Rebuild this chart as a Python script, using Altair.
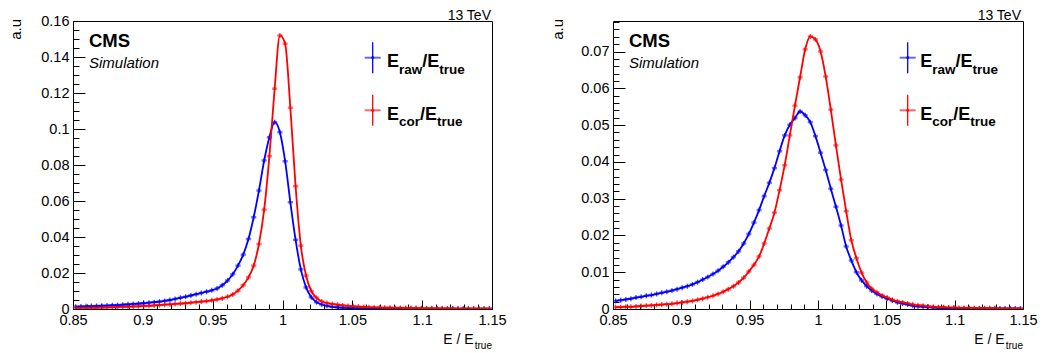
import altair as alt
import pandas as pd

FONT = "Liberation Sans"

# ---------------- data ----------------
BIN_LO = 0.85
BIN_WIDTH = 0.00375
N_BINS = 80
x_centers = [round(BIN_LO + BIN_WIDTH * (i + 0.5), 6) for i in range(N_BINS)]

left_raw = [
    .0013, .0014, .0015, .0016, .0017, .0018, .0019, .0021, .0022, .0024,
    .0026, .0028, .0030, .0032, .0035, .0038, .0041, .0045, .0050, .0056,
    .0062, .0068, .0075, .0082, .0089, .0096, .0104, .0114, .0132, .0158,
    .0193, .0241, .0302, .0389, .0510, .0658, .0825, .0954, .1038, .0982,
    .0821, .0593, .0384, .0220, .0120, .0065, .0038, .0025, .0017, .0012,
    .0009, .0007, .0005, .0004, .0003, .0003, .0002, .0002, .0001, .0001,
    .0001, .0001, .0001, .0001, .0001, .0001, .0001, .0001, .0001, .0001,
    .0001, .0001, .0001, .0001, .0001, .0001, .0001, .0001, .0001, .0001,
]
left_cor = [
    .0005, .0006, .0006, .0007, .0007, .0008, .0009, .0010, .0011, .0012,
    .0013, .0014, .0015, .0017, .0018, .0020, .0022, .0024, .0026, .0028,
    .0030, .0032, .0035, .0038, .0041, .0044, .0048, .0053, .0059, .0068,
    .0081, .0102, .0132, .0176, .0241, .0361, .0552, .0849, .1224, .1520,
    .1474, .1118, .0682, .0352, .0185, .0100, .0062, .0042, .0033, .0028,
    .0024, .0020, .0017, .0015, .0013, .0011, .0010, .0009, .0008, .0007,
    .0007, .0006, .0006, .0005, .0005, .0005, .0004, .0004, .0004, .0003,
    .0003, .0003, .0003, .0002, .0002, .0002, .0002, .0002, .0002, .0002,
]
right_raw = [
    .0022, .0024, .0026, .0028, .0031, .0033, .0036, .0038, .0041, .0044,
    .0047, .0050, .0054, .0058, .0062, .0067, .0073, .0080, .0087, .0095,
    .0104, .0115, .0127, .0141, .0157, .0178, .0204, .0235, .0269, .0307,
    .0343, .0383, .0429, .0472, .0501, .0519, .0537, .0527, .0508, .0470,
    .0425, .0378, .0327, .0278, .0227, .0170, .0132, .0100, .0078, .0062,
    .0050, .0041, .0034, .0028, .0023, .0018, .0015, .0012, .0009, .0007,
    .0006, .0005, .0004, .0003, .0003, .0002, .0002, .0001, .0001, .0001,
    .0001, .0001, .0001, .0001, .0001, .0001, .0001, .0001, .0001, .0001,
]
right_cor = [
    .0005, .0005, .0006, .0006, .0007, .0008, .0009, .0010, .0011, .0012,
    .0013, .0014, .0016, .0018, .0020, .0022, .0025, .0028, .0032, .0036,
    .0041, .0047, .0054, .0062, .0072, .0085, .0102, .0120, .0143, .0178,
    .0219, .0262, .0323, .0391, .0472, .0553, .0630, .0706, .0741, .0733,
    .0700, .0632, .0542, .0445, .0352, .0266, .0187, .0138, .0099, .0072,
    .0055, .0045, .0037, .0031, .0025, .0021, .0018, .0015, .0012, .0010,
    .0009, .0007, .0006, .0005, .0005, .0004, .0004, .0003, .0003, .0003,
    .0002, .0002, .0002, .0002, .0002, .0001, .0001, .0001, .0001, .0001,
]

x_major = [0.85, 0.9, 0.95, 1.0, 1.05, 1.1, 1.15]
x_minor = [round(0.85 + 0.01 * i, 2) for i in range(31)]
left_y_major = [0, 0.02, 0.04, 0.06, 0.08, 0.1, 0.12, 0.14, 0.16]
left_y_minor = [round(0.005 * i, 3) for i in range(33)]
right_y_major = [0, 0.01, 0.02, 0.03, 0.04, 0.05, 0.06, 0.07]
right_y_minor = [round(0.002 * i, 3) for i in range(40)]
LEFT_YMAX = 0.16
RIGHT_YMAX = 0.0783

series_names = ["raw", "cor"]
series_colors = ["#0000ff", "#ff0000"]

# ---------------- helpers ----------------
BOLD_W = {"E": 667, "r": 389, "a": 556, "w": 778, "/": 278, "t": 333,
          "u": 611, "e": 556, "c": 556, "o": 611}


def tw(s, size):
    return sum(BOLD_W[c] for c in s) * size / 1000.0


def txt(text, x, y, size, weight="normal", style="normal", align="left",
        angle=0, color="black"):
    return alt.Chart(pd.DataFrame({"t": [text]})).mark_text(
        font=FONT, fontSize=size, fontWeight=weight, fontStyle=style,
        align=align, baseline="alphabetic", angle=angle, color=color
    ).encode(x=alt.value(x), y=alt.value(y), text="t:N")


def legend_entry(cx, cy, tx, sub, color):
    big, small = 18, 13.5
    one = pd.DataFrame({"a": [0]})
    hbar = alt.Chart(one).mark_rule(color=color, strokeWidth=2, opacity=0.6).encode(
        x=alt.value(cx - 8), x2=alt.value(cx + 8), y=alt.value(cy))
    vbar = alt.Chart(one).mark_rule(color=color, strokeWidth=1.3).encode(
        x=alt.value(cx), y=alt.value(cy - 15.5), y2=alt.value(cy + 15.5))
    dot = alt.Chart(one).mark_point(color=color, filled=True, size=8, opacity=1).encode(
        x=alt.value(cx), y=alt.value(cy))
    yb = cy + 9.5
    ys = yb + 6.5
    x1 = tx
    x2 = x1 + tw("E", big)
    x3 = x2 + tw(sub, small)
    x4 = x3 + tw("/E", big)
    parts = [
        txt("E", x1, yb, big, weight="bold"),
        txt(sub, x2, ys, small, weight="bold"),
        txt("/E", x3, yb, big, weight="bold"),
        txt("true", x4, ys, small, weight="bold"),
    ]
    return [hbar, vbar, dot] + parts


def panel(raw, cor, ymax, y_major, y_minor, W, H, leg_cx, leg_tx, au_x,
          tev_x, xt_end):
    rows = []
    for name, vals in zip(series_names, [raw, cor]):
        for xc, v in zip(x_centers, vals):
            rows.append({"x": xc, "y": v, "s": name,
                         "xlo": xc - BIN_WIDTH / 2, "xhi": xc + BIN_WIDTH / 2})
    df = pd.DataFrame(rows)
    xs = alt.Scale(domain=[0.85, 1.15], nice=False, zero=False)
    ys = alt.Scale(domain=[0, ymax], nice=False, zero=False)
    col = alt.Color("s:N", scale=alt.Scale(domain=series_names, range=series_colors),
                    legend=None)

    lab = dict(ticks=False, domain=False, grid=False, title=None, labelFont=FONT,
               labelFontSize=14.5, labelColor="black", labelPadding=4,
               labelOverlap=False, labelFlush=False, format="~g")
    tk = dict(labels=False, domain=False, grid=False, title=None, tickColor="black",
              tickWidth=1)

    ax_x_lab = alt.Axis(orient="bottom", values=x_major, **lab)
    ax_y_lab = alt.Axis(orient="left", values=y_major, **lab)
    ax_x_maj = alt.Axis(orient="bottom", values=x_major, tickSize=9, offset=-9, **tk)
    ax_y_maj = alt.Axis(orient="left", values=y_major, tickSize=12, offset=-12, **tk)
    ax_x_min = alt.Axis(orient="bottom", values=x_minor, tickSize=5, offset=-5, **tk)
    ax_y_min = alt.Axis(orient="left", values=y_minor, tickSize=6, offset=-6, **tk)

    base = alt.Chart(df)
    herr = base.mark_rule(strokeWidth=2.5, opacity=0.55, clip=True).encode(
        x=alt.X("xlo:Q", scale=xs, axis=ax_x_maj), x2="xhi:Q",
        y=alt.Y("y:Q", scale=ys, axis=ax_y_maj), color=col)
    verr = base.mark_tick(orient="vertical", size=5, thickness=1.3, opacity=0.75,
                          clip=True).encode(
        x=alt.X("x:Q", scale=xs, axis=ax_x_min),
        y=alt.Y("y:Q", scale=ys, axis=ax_y_min), color=col)
    lines = base.mark_line(interpolate="monotone", strokeWidth=1.8, clip=True).encode(
        x=alt.X("x:Q", scale=xs, axis=ax_x_lab),
        y=alt.Y("y:Q", scale=ys, axis=ax_y_lab), color=col)

    texts = [
        txt("CMS", 16, 26, 18.5, weight="bold"),
        txt("Simulation", 16, 47, 15, style="italic"),
        txt("13 TeV", tev_x, -1, 14, align="right"),
        txt("a.u", au_x, -2, 15, align="right", angle=270),
        txt("E / E", xt_end - 18.3, 323.3, 14, align="right"),
        txt("true", xt_end, 328.3, 10, align="right"),
    ]
    leg = legend_entry(leg_cx, 36.7, leg_tx, "raw", series_colors[0]) + \
        legend_entry(leg_cx, 89.3, leg_tx, "cor", series_colors[1])

    return alt.layer(herr, verr, lines, *texts, *leg).resolve_axis(
        x="independent", y="independent").properties(width=W, height=H)


left = panel(left_raw, left_cor, LEFT_YMAX, left_y_major, left_y_minor, 419, 288,
             299.7, 314, -52, 418, 419)
right = panel(right_raw, right_cor, RIGHT_YMAX, right_y_major, right_y_minor, 410, 288,
              294.7, 307.3, -50, 408, 410)

chart = alt.hconcat(left, right, spacing=121, bounds="flush").properties(
    padding={"left": 0, "top": 0, "right": 5, "bottom": 5}
).configure_view(stroke="black", strokeWidth=1)

chart.save("out.html", embed_options={"renderer": "svg", "actions": False})
